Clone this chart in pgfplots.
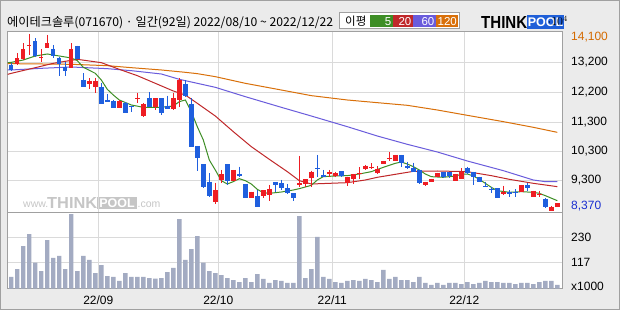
\documentclass[border=0pt]{standalone}
\usepackage{fontspec}
\setmainfont{Liberation Sans}
\newfontfamily\kr{Noto Sans CJK KR}
\usepackage{graphicx}
\usepackage{pgfplots}
\usepackage{pgfplotstable}
\pgfplotsset{compat=1.18}

\definecolor{bgc}{HTML}{EBEBEB}
\definecolor{framec}{HTML}{A0A0A0}
\definecolor{gridc}{HTML}{DADADA}
\definecolor{cred}{HTML}{EE1D23}
\definecolor{cblue}{HTML}{1F5FDE}
\definecolor{maA}{HTML}{3E8E26}
\definecolor{maB}{HTML}{C0282A}
\definecolor{maC}{HTML}{6A5CDC}
\definecolor{maD}{HTML}{D9700A}
\definecolor{volc}{HTML}{A3ABC2}
\definecolor{labor}{HTML}{D46A00}
\definecolor{labbl}{HTML}{1A2FD0}
\definecolor{logob}{HTML}{1F5FD8}
\definecolor{wmc}{HTML}{C6C6C6}

% up (red) candles
\pgfplotstableread{
i o h l c
1 13116 13473 13094 13310
2 13278 13797 13256 13602
3 13711 14100 13419 13732
5 13310 13602 13202 13343
6 13657 14068 13635 13797
10 13007 13797 12986 13613
13 12466 12661 12304 12575
14 12369 12683 12196 12575
18 11709 11958 11709 11925
21 12001 12196 11850 12023
22 11449 11850 11417 11828
24 11741 12012 11633 12012
27 11655 12196 11633 12012
28 11958 12661 11720 12607
34 8657 9274 8571 9036
35 9361 9686 9253 9556
37 9339 9686 9339 9686
40 8766 8982 8766 8982
42 8853 9036 8766 9036
43 8874 9199 8690 9069
48 9199 10140 9145 9274
49 9220 9393 9145 9393
50 9437 9664 9123 9632
53 9556 9686 9469 9610
54 9502 9632 9469 9577
56 9274 9469 9177 9469
57 9393 9556 9231 9556
58 9545 9772 9393 9577
59 9707 9848 9686 9826
60 9740 9902 9707 9794
61 9577 9815 9556 9707
62 9870 9978 9870 9978
63 10053 10259 9989 10075
64 9978 10173 9978 10173
69 9199 9307 9177 9307
70 9307 9404 9307 9404
71 9448 9599 9448 9599
74 9339 9556 9339 9556
75 9393 9740 9393 9632
82 8907 9177 8874 8982
85 8982 9199 8982 9199
87 8820 9015 8798 9015
88 8874 9015 8798 8907
90 8370 8520 8370 8495
91 8495 8604 8495 8604
}\upc

% down (blue) candles
\pgfplotstableread{
i o h l c
0 13094 13148 12899 12932
4 13873 13960 13364 13397
7 13613 13743 13310 13397
8 13310 13364 12748 13116
9 13040 13202 12748 12910
11 13711 13721 13278 13289
12 12607 12823 12369 12391
15 12391 12499 11817 11817
16 11958 12142 11904 11904
17 11925 11958 11709 11709
19 11850 11882 11525 11525
20 11752 11763 11557 11731
23 12012 12207 11720 11741
25 12012 12012 11471 11525
26 11774 12099 11655 11655
29 12477 12607 12066 12099
30 11828 12012 10421 10421
31 10465 10465 9664 10064
32 9880 9880 9091 9145
33 9307 9577 8820 8853
36 9880 9880 9199 9339
38 9556 9794 9469 9502
39 9231 9231 8766 8766
41 8853 9036 8474 8495
44 9285 9285 8982 9199
45 9253 9361 9036 9112
46 9091 9231 8907 8928
47 8928 8928 8690 8766
51 9740 10173 9469 9707
52 9523 9686 9448 9469
55 9642 9642 9448 9502
65 10173 10173 9794 9902
66 9826 9956 9707 9740
67 9761 9924 9632 9632
68 9686 9686 9231 9274
72 9632 9632 9415 9469
73 9632 9632 9415 9491
76 9761 9794 9556 9599
77 9632 9632 9199 9448
78 9469 9469 9285 9285
79 9177 9307 9123 9155
80 9069 9145 8928 9047
81 9091 9091 8766 8766
83 8982 9036 8820 8907
84 8961 9058 8820 8928
86 9199 9253 9015 9091
89 8733 8766 8452 8474
}\downc

% moving averages
\pgfplotstableread{
i v
-0.6 13170
0 13180
2 13256
4 13386
6 13451
8 13386
10 13321
11 13235
12 13018
14 12823
15 12607
16 12304
17 12120
18 11958
20 11796
22 11720
25 11720
27 11763
28 11904
29 11958
30 11579
31 11092
32 10660
33 10010
34 9686
35 9339
36 9231
37 9307
38 9404
39 9339
40 9231
41 9058
42 8950
43 8928
45 8971
47 9036
48 9080
50 9188
51 9361
52 9469
54 9491
56 9502
58 9556
60 9632
62 9772
64 9902
65 9945
66 9880
67 9794
68 9686
69 9556
70 9469
72 9448
74 9491
75 9545
76 9556
77 9491
78 9383
79 9253
80 9123
81 9015
83 8961
85 8982
87 8961
88 8928
89 8853
91 8690
}\mafive

\pgfplotstableread{
i v
-0.6 12791
0 12823
4 13007
7 13148
11 13278
15 13170
18 12953
21 12748
24 12499
27 12250
29 12120
31 11850
34 11438
37 10930
40 10443
43 10032
46 9632
48 9339
50 9231
53 9253
56 9274
59 9361
61 9448
64 9545
67 9642
71 9653
76 9632
80 9502
83 9383
87 9253
91 9145
}\matwenty

\pgfplotstableread{
i v
-0.6 12932
0 12932
5 12986
10 13029
16 12975
20 12910
25 12802
28 12629
31 12499
34 12369
39 12066
45 11720
50 11438
56 11092
61 10789
66 10519
71 10270
76 9978
82 9664
87 9361
89 9307
91 9307
}\masixty

\pgfplotstableread{
i v
-0.6 13140
0 13137
10 13116
16 13072
20 13007
25 12932
29 12856
31 12813
34 12715
39 12499
45 12282
50 12099
56 11958
61 11871
66 11785
71 11633
76 11460
82 11255
87 11071
91 10908
}\mahundred

\pgfplotstableread{
i v
0 52
1 87
2 190
3 244
4 116
5 78
6 217
7 137
8 146
9 87
10 334
11 78
12 146
13 128
14 69
15 105
16 56
17 52
18 34
19 69
20 52
21 52
22 52
23 47
24 44
25 47
26 74
27 92
28 311
29 128
30 177
31 235
32 116
33 78
34 69
35 60
36 47
37 38
38 29
39 47
40 29
41 65
42 43
43 25
44 38
45 34
46 25
47 25
48 325
49 47
50 87
51 232
52 52
53 43
54 29
55 25
56 34
57 38
58 34
59 43
60 38
61 29
62 83
63 43
64 52
65 38
66 38
67 29
68 52
69 25
70 16
71 25
72 16
73 25
74 25
75 20
76 29
77 20
78 25
79 34
80 29
81 29
82 25
83 25
84 20
85 25
86 25
87 20
88 29
89 34
90 34
91 16
}\vol

\begin{document}
\begin{tikzpicture}
% background
\fill[bgc] (0pt,0pt) rectangle (620pt,-310pt);
\draw[framec, line width=1pt] (0.5pt,-0.5pt) rectangle (619.5pt,-309.5pt);
\fill[white] (7.5pt,-31.5pt) rectangle (562.5pt,-288.5pt);

% header title
\node[anchor=base west, inner sep=0pt] at (7pt,-26.7pt)
  {\resizebox{326pt}{!}{\kr\fontsize{12.3}{13}\selectfont 에이테크솔루(071670) · 일간(92일) 2022/08/10 \textasciitilde{} 2022/12/22}};

% legend box
\draw[framec, fill=white, line width=1pt] (339pt,-12.5pt) rectangle (459pt,-29pt);
\node[anchor=base west, inner sep=0pt, font=\kr\fontsize{11.5}{12}\selectfont] at (345pt,-25.8pt) {이평};
\fill[maA] (370pt,-15pt) rectangle (393pt,-27pt);
\fill[maB] (393pt,-15pt) rectangle (413pt,-27pt);
\fill[maC] (413pt,-15pt) rectangle (436pt,-27pt);
\fill[maD] (436pt,-15pt) rectangle (458pt,-27pt);
\node[anchor=base east, inner sep=0pt, text=white, font=\fontsize{11.5}{12}\selectfont] at (391.5pt,-25.3pt) {5};
\node[anchor=base east, inner sep=0pt, text=white, font=\fontsize{11.5}{12}\selectfont] at (411.5pt,-25.3pt) {20};
\node[anchor=base east, inner sep=0pt, text=white, font=\fontsize{11.5}{12}\selectfont] at (434.5pt,-25.3pt) {60};
\node[anchor=base east, inner sep=0pt, text=white, font=\fontsize{11.5}{12}\selectfont] at (457pt,-25.3pt) {120};

% logo
\node[anchor=base west, inner sep=0pt] at (481pt,-28.5pt) {\resizebox{46pt}{12pt}{\bfseries THINK}};
\fill[logob] (527pt,-15.5pt) rectangle (564pt,-29pt);
\node[anchor=base, inner sep=0pt, text=white, font=\bfseries\fontsize{12.5}{13}\selectfont] at (545.5pt,-26.8pt) {POOL};

% watermark
\node[anchor=base west, inner sep=0pt, text=wmc, font=\fontsize{10.5}{11}\selectfont] at (23pt,-207.5pt) {www.};
\node[anchor=base west, inner sep=0pt, text=wmc] at (47pt,-208pt) {\resizebox{50pt}{11pt}{\bfseries THINK}};
\fill[wmc] (97pt,-196.5pt) rectangle (137pt,-209pt);
\node[anchor=base, inner sep=0pt, text=white, font=\bfseries\fontsize{12.5}{13}\selectfont] at (117pt,-207pt) {POOL};
\node[anchor=base west, inner sep=0pt, text=wmc, font=\fontsize{10.5}{11}\selectfont] at (137.5pt,-207.5pt) {.com};

% price panel
\begin{axis}[
  at={(7.5pt,-31.5pt)}, anchor=north west,
  scale only axis, width=555pt, height=180.5pt,
  xmin=-0.633, xmax=91.867, ymin=8322, ymax=14181,
  axis line style={draw=framec, line width=1pt},
  /pgf/number format/assume math mode=true,
  xtick={14.5,34.5,53.5,75.5}, xticklabels={},
  ytick={13181,12208,11244,10292,9351},
  yticklabels={{13,200},{12,200},{11,300},{10,300},{9,300}},
  extra y ticks={13986,8517},
  extra y tick labels={{\textcolor{labor}{14,100}},{\textcolor{labbl}{8,370}}},
  extra y tick style={grid=none},
  ymajorgrids, xmajorgrids,
  grid style={draw=gridc, line width=0.9pt},
  major tick length=0pt,
  ytick pos=right, xtick pos=bottom,
  tick label style={font=\fontsize{12}{12}\selectfont},
  yticklabel style={anchor=west, inner sep=0pt, xshift=8.5pt},
  candle/.style={draw=none, mark=none, forget plot,
    error bars/.cd, y dir=minus, y explicit, error mark=none},
]
\addplot[maD, line width=1pt] table[x=i,y=v] {\mahundred};
\addplot[maC, line width=1pt] table[x=i,y=v] {\masixty};
\addplot[maB, line width=1pt] table[x=i,y=v] {\matwenty};
\addplot[maA, line width=1pt] table[x=i,y=v] {\mafive};
% wicks
\addplot[candle, error bar style={draw=cred, line width=1pt}]
  table[x=i, y=h, y error expr=\thisrow{h}-\thisrow{l}] {\upc};
\addplot[candle, error bar style={draw=cblue, line width=1pt}]
  table[x=i, y=h, y error expr=\thisrow{h}-\thisrow{l}] {\downc};
% bodies
\addplot[candle, error bar style={draw=cred, line width=4.4pt}]
  table[x=i, y=c, y error expr={max(\thisrow{c}-\thisrow{o},33)}] {\upc};
\addplot[candle, error bar style={draw=cblue, line width=4.4pt}]
  table[x=i, y=o, y error expr={max(\thisrow{o}-\thisrow{c},33)}] {\downc};
\end{axis}

% volume panel
\begin{axis}[
  at={(7.5pt,-212pt)}, anchor=north west,
  scale only axis, width=555pt, height=76.5pt,
  xmin=-0.633, xmax=91.867, ymin=0, ymax=343,
  axis line style={draw=framec, line width=1pt},
  /pgf/number format/assume math mode=true,
  xtick={14.5,34.5,53.5,75.5}, xticklabels={22/09,22/10,22/11,22/12},
  ytick={117,230}, yticklabels={117,230},
  extra y ticks={11}, extra y tick labels={x1000},
  extra y tick style={grid=none},
  ymajorgrids, xmajorgrids,
  grid style={draw=gridc, line width=0.9pt},
  major tick length=0pt,
  ytick pos=right, xtick pos=bottom,
  tick label style={font=\fontsize{12}{12}\selectfont},
  yticklabel style={anchor=west, inner sep=0pt, xshift=8.5pt},
  xticklabel style={anchor=north, inner sep=0pt, yshift=-7pt},
]
\addplot[ybar, bar width=4.4pt, bar shift=0pt, fill=volc, draw=none] table[x=i,y=v] {\vol};
\end{axis}
\end{tikzpicture}
\end{document}
